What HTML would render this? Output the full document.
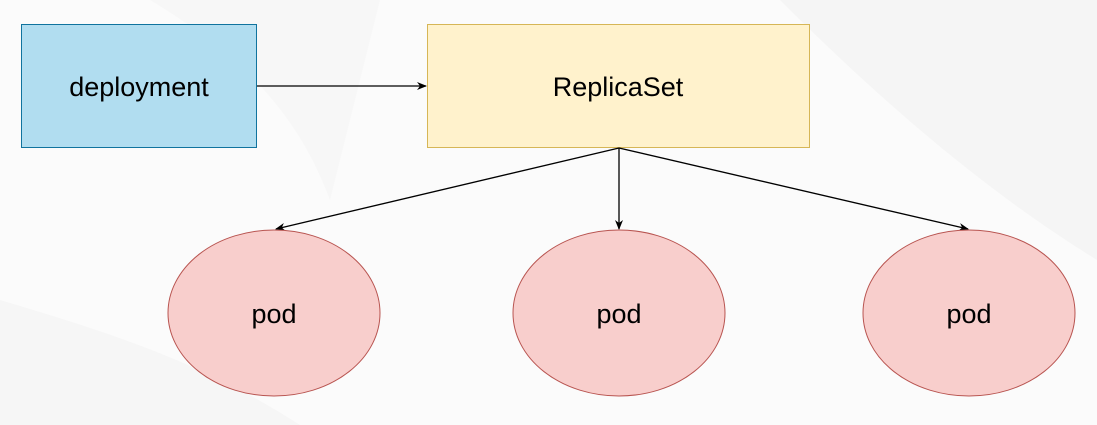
<!DOCTYPE html>
<html><head><style>
html,body{margin:0;padding:0;background:#fbfbfb;}
svg{display:block;}
text{font-family:"Liberation Sans",sans-serif;font-size:27px;fill:#000;}
</style></head><body>
<svg width="1097" height="425" viewBox="0 0 1097 425">
<rect width="1097" height="425" fill="#fbfbfb"/>
<path d="M780 0 L1097 0 L1097 260 C1000 200 900 120 780 0Z" fill="#f5f5f5"/>
<path d="M0 300 C100 330 200 360 300 425 L0 425Z" fill="#f6f6f6"/>
<path d="M150 0 C250 60 300 120 330 200 L380 0Z" fill="#f7f7f7"/>
<defs><marker id="a" markerWidth="10" markerHeight="10" refX="9" refY="5" orient="auto" markerUnits="userSpaceOnUse"><path d="M0,1 L10,5 L0,9 L3,5Z" fill="#000"/></marker></defs>
<rect x="21.5" y="24.5" width="235" height="123" fill="#b1ddf0" stroke="#10739e"/>
<text x="139" y="96" text-anchor="middle">deployment</text>
<rect x="427.5" y="24.5" width="382" height="123" fill="#fff2cc" stroke="#d6b656"/>
<text x="618" y="96" text-anchor="middle">ReplicaSet</text>
<line x1="257" y1="86" x2="426" y2="86" stroke="#000" stroke-width="1.3" marker-end="url(#a)"/>
<line x1="619" y1="148" x2="276" y2="229" stroke="#000" stroke-width="1.3" marker-end="url(#a)"/>
<line x1="619" y1="148" x2="619" y2="229" stroke="#000" stroke-width="1.3" marker-end="url(#a)"/>
<line x1="619" y1="148" x2="968" y2="229" stroke="#000" stroke-width="1.3" marker-end="url(#a)"/>
<ellipse cx="274" cy="313" rx="106" ry="83" fill="#f8cecc" stroke="#b85450"/>
<ellipse cx="619" cy="313" rx="106" ry="83" fill="#f8cecc" stroke="#b85450"/>
<ellipse cx="969" cy="313" rx="106" ry="83" fill="#f8cecc" stroke="#b85450"/>
<text x="274" y="323" text-anchor="middle">pod</text>
<text x="619" y="323" text-anchor="middle">pod</text>
<text x="969" y="323" text-anchor="middle">pod</text>
</svg>
</body></html>
